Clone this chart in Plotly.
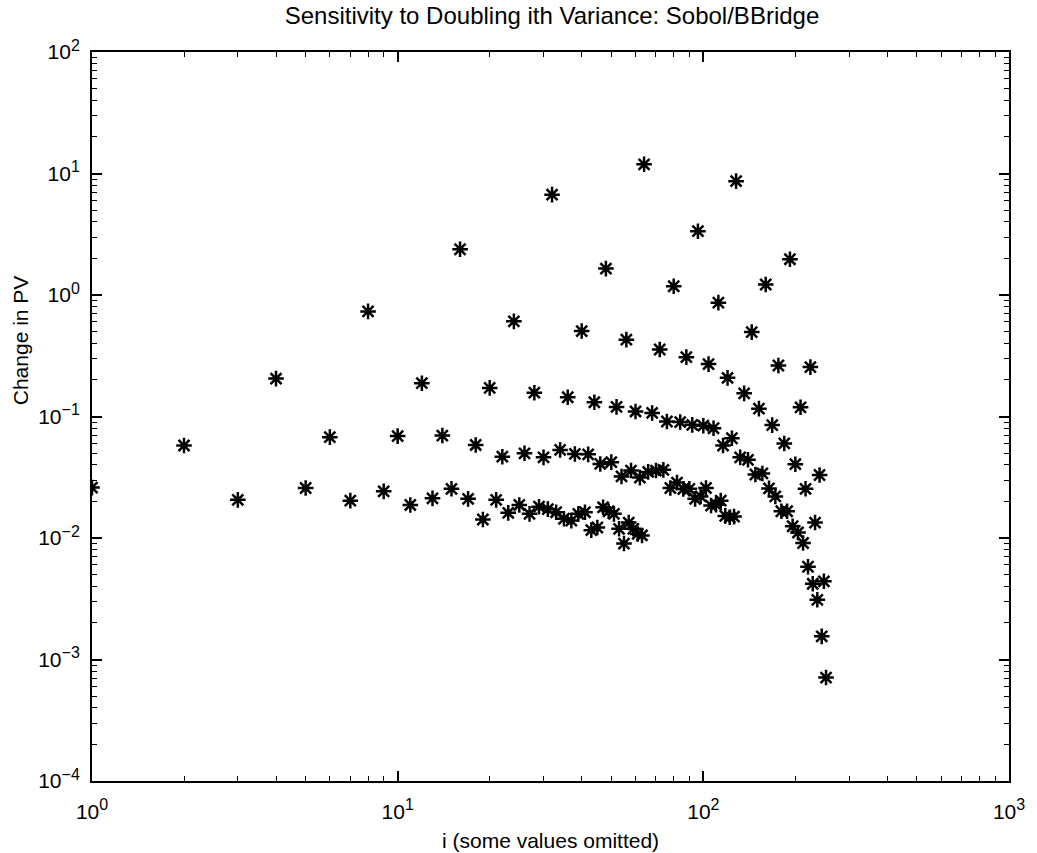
import plotly.graph_objects as go

# ---------------- data ----------------
i_odd = [1, 3, 5, 7, 9, 11, 13, 15, 17, 19, 21, 23, 25, 27, 29, 31,
         33, 35, 37, 39, 41, 43, 45, 47, 49, 51, 53, 55, 57, 59, 61, 63]
pv_odd = [0.026, 0.0206, 0.0258, 0.0203, 0.0242, 0.0187, 0.0212, 0.0254,
          0.021, 0.0142, 0.0206, 0.0161, 0.0187, 0.0158, 0.0181, 0.0173,
          0.0163, 0.0144, 0.0139, 0.0158, 0.0163, 0.0116, 0.0122, 0.0179,
          0.0166, 0.0158, 0.0119, 0.009, 0.0134, 0.0119, 0.0108, 0.0105]

i_2mod4 = [2, 6, 10, 14, 18, 22, 26, 30, 34, 38, 42, 46, 50, 54, 58, 62,
           66, 70, 74, 78, 82, 86, 90, 94, 98, 102, 106, 110, 114, 118, 122, 126]
pv_2mod4 = [0.0577, 0.0676, 0.069, 0.0697, 0.0583, 0.0467, 0.0498, 0.0461,
            0.0531, 0.0492, 0.0488, 0.0407, 0.0421, 0.0321, 0.0359, 0.0314,
            0.035, 0.0359, 0.0364, 0.0258, 0.0286, 0.0253, 0.0254, 0.021,
            0.022, 0.0258, 0.0185, 0.0188, 0.0203, 0.0152, 0.0148, 0.015]

i_4mod8 = [4, 12, 20, 28, 36, 44, 52, 60, 68, 76, 84, 92, 100, 108, 116, 124,
           132, 140, 148, 156, 164, 172, 180, 188, 196, 204, 212, 220, 228, 236, 244, 252]
pv_4mod8 = [0.205, 0.188, 0.172, 0.157, 0.144, 0.131, 0.12, 0.11,
            0.107, 0.091, 0.09, 0.0854, 0.084, 0.08, 0.0577, 0.0662,
            0.0461, 0.044, 0.0333, 0.034, 0.0256, 0.022, 0.0166, 0.0166,
            0.0125, 0.0111, 0.0091, 0.0058, 0.0042, 0.0031, 0.00155, 0.00071]

i_8mod16 = [8, 24, 40, 56, 72, 88, 104, 120, 136, 152, 168, 184, 200, 216, 232, 248]
pv_8mod16 = [0.733, 0.607, 0.505, 0.429, 0.356, 0.308, 0.27, 0.208,
             0.155, 0.116, 0.085, 0.06, 0.0405, 0.0254, 0.0134, 0.0044]

i_16mod32 = [16, 48, 80, 112, 144, 176, 208, 240]
pv_16mod32 = [2.38, 1.65, 1.18, 0.865, 0.495, 0.263, 0.119, 0.033]

i_32mod64 = [32, 96, 160, 224]
pv_32mod64 = [6.7, 3.35, 1.22, 0.255]

i_64mod128 = [64, 192]
pv_64mod128 = [11.9, 1.97]

i_128 = [128]
pv_128 = [8.65]

x_tick_vals = [1, 10, 100, 1000]
x_exponents = ["0", "1", "2", "3"]
y_tick_vals = [1e-4, 1e-3, 1e-2, 1e-1, 1, 10, 100]
y_exponents = ["\u22124", "\u22123", "\u22122", "\u22121", "0", "1", "2"]

title_text = "Sensitivity to Doubling ith Variance: Sobol/BBridge"
x_title = "i (some values omitted)"
y_title = "Change in PV"

# ---------------- figure ----------------
all_i = (i_odd + i_2mod4 + i_4mod8 + i_8mod16 + i_16mod32 + i_32mod64
         + i_64mod128 + i_128)
all_pv = (pv_odd + pv_2mod4 + pv_4mod8 + pv_8mod16 + pv_16mod32 + pv_32mod64
          + pv_64mod128 + pv_128)

FONT = "Liberation Sans, Arial, Helvetica, sans-serif"


def power_label(exp):
    return '10<sup><span style="font-size:16px">' + exp + '</span></sup>'


x_tick_text = [power_label(e) for e in x_exponents]
y_tick_text = [power_label(e) for e in y_exponents]

fig = go.Figure()
fig.add_trace(go.Scatter(
    x=all_i, y=all_pv, mode="markers",
    marker=dict(symbol="asterisk-open", size=13, color="black",
                line=dict(color="black", width=2.5)),
    showlegend=False, hoverinfo="x+y",
))

minor_x = [m * 10 ** k for k in range(0, 3) for m in range(2, 10)]
minor_y = [m * 10.0 ** k for k in range(-4, 2) for m in range(2, 10)]

axis_common = dict(
    type="log", showgrid=False, zeroline=False,
    showline=True, linecolor="black", linewidth=2, mirror="allticks",
    ticks="inside", ticklen=10, tickwidth=1.6, tickcolor="black",
    tickfont=dict(family=FONT, size=21, color="black"),
)

fig.update_xaxes(
    range=[0, 3], tickvals=x_tick_vals, ticktext=x_tick_text,
    minor=dict(tickvals=minor_x, ticks="inside", ticklen=5, tickwidth=1.2,
               tickcolor="black", showgrid=False),
    ticklabelstandoff=11, **axis_common,
)
fig.update_yaxes(
    range=[-4, 2], tickvals=y_tick_vals, ticktext=y_tick_text,
    minor=dict(tickvals=minor_y, ticks="inside", ticklen=5, tickwidth=1.2,
               tickcolor="black", showgrid=False),
    ticklabelstandoff=6, **axis_common,
)

W, H = 1037, 853
L, R, T, B = 92, 25, 52, 72
pw, ph = W - L - R, H - T - B

fig.update_layout(
    width=W, height=H,
    margin=dict(l=L, r=R, t=T, b=B, pad=0),
    paper_bgcolor="white", plot_bgcolor="white",
    font=dict(family=FONT, color="black"),
    title=dict(text=title_text, x=(L + pw / 2) / W, xanchor="center",
               y=1 - 16 / H, yanchor="middle", yref="container",
               font=dict(family=FONT, size=24, color="black")),
    annotations=[
        dict(text=x_title, xref="paper", yref="paper", x=0.5,
             y=-(840 - (T + ph)) / ph, xanchor="center", yanchor="middle",
             showarrow=False, font=dict(family=FONT, size=21, color="black")),
        dict(text=y_title, xref="paper", yref="paper",
             x=-(L - 20) / pw, y=(T + ph - 340) / ph, textangle=-90,
             xanchor="center", yanchor="middle", showarrow=False,
             font=dict(family=FONT, size=21, color="black")),
    ],
)

fig.write_html("out.html")
